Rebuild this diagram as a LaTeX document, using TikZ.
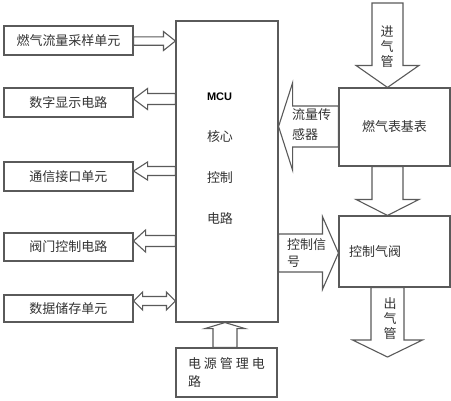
\documentclass[tikz,border=0pt]{standalone}
\usepackage{fontspec}
\setmainfont{Noto Sans CJK SC}
\newfontfamily\mcufont{Liberation Sans}
\usepackage{tikz}
\usetikzlibrary{calc}
\definecolor{linegray}{HTML}{5A5A5A}
\definecolor{textgray}{HTML}{333333}
\tikzstyle{box} = [draw=linegray, line width=1.1pt, inner sep=0pt, text=textgray,
    font=\fontsize{13}{15}\selectfont, align=center]
\tikzstyle{txt} = [inner sep=0pt, text=textgray, align=left]
% hollow block arrow: shaft half width, head half width, head length
\tikzset{fat/.style n args={3}{draw=linegray, line width=1.1pt,
    to path={let \p1=(\tikztostart), \p2=(\tikztotarget),
      \n1={atan2(\y2-\y1,\x2-\x1)}, \n2={veclen(\x2-\x1,\y2-\y1)} in
      ($(\p1)+({\n1+90}:#1)$) -- ($(\p1)+(\n1:{\n2-#3})+({\n1+90}:#1)$)
      -- ($(\p1)+(\n1:{\n2-#3})+({\n1+90}:#2)$) -- (\p2)
      -- ($(\p1)+(\n1:{\n2-#3})+({\n1-90}:#2)$)
      -- ($(\p1)+(\n1:{\n2-#3})+({\n1-90}:#1)$) -- ($(\p1)+({\n1-90}:#1)$) -- cycle}},
  fatboth/.style n args={3}{draw=linegray, line width=1.1pt,
    to path={let \p1=(\tikztostart), \p2=(\tikztotarget),
      \n1={atan2(\y2-\y1,\x2-\x1)}, \n2={veclen(\x2-\x1,\y2-\y1)} in
      (\p1) -- ($(\p1)+(\n1:#3)+({\n1+90}:#2)$) -- ($(\p1)+(\n1:#3)+({\n1+90}:#1)$)
      -- ($(\p1)+(\n1:{\n2-#3})+({\n1+90}:#1)$) -- ($(\p1)+(\n1:{\n2-#3})+({\n1+90}:#2)$)
      -- (\p2) -- ($(\p1)+(\n1:{\n2-#3})+({\n1-90}:#2)$)
      -- ($(\p1)+(\n1:{\n2-#3})+({\n1-90}:#1)$) -- ($(\p1)+(\n1:#3)+({\n1-90}:#1)$)
      -- ($(\p1)+(\n1:#3)+({\n1-90}:#2)$) -- cycle}}}

\begin{document}
\begin{tikzpicture}[x=1pt, y=-1pt]
        \useasboundingbox[fill=white] (0,0) rectangle (451,400);
        % left column
        \node (samp)[box, minimum width=129pt, minimum height=29pt] at (68.5,40.5) {燃气流量采样单元};
        \node (disp)[box, minimum width=129pt, minimum height=29pt] at (68.5,102.5) {数字显示电路};
        \node (comm)[box, minimum width=129pt, minimum height=29pt] at (68.5,176.5) {通信接口单元};
        \node (valvectl)[box, minimum width=129pt, minimum height=28pt] at (68.5,247) {阀门控制电路};
        \node (store)[box, minimum width=129pt, minimum height=27pt] at (68.5,308.5) {数据储存单元};
        % MCU
        \node (mcu)[box, minimum width=102pt, minimum height=301pt] at (227,171.5) {};
        \node (mcutxt)[txt, font=\fontsize{13}{41}\selectfont] at (220,158.5)
            {{\mcufont\bfseries\fontsize{11}{41}\selectfont\color{black}MCU}\\核心\\控制\\电路};
        \node (power)[box, minimum width=101pt, minimum height=49pt,
            font=\fontsize{13}{18}\selectfont, align=left] at (226.5,372.5)
            {电\hspace{3pt}源\hspace{3pt}管\hspace{3pt}理\hspace{3pt}电\\路};
        % right column
        \node (meter)[box, minimum width=111pt, minimum height=78pt] at (394.5,127) {燃气表基表};
        \node (valve)[box, minimum width=111pt, minimum height=71pt, align=left,
            text width=91pt] at (394.5,251.5) {控制气阀};
        \coordinate (inlet) at (387.5,3);
        \coordinate (outlet) at (387.5,357);

        \draw [fat={4.2pt}{9.5pt}{12pt}] (samp.east |- 0,41) to (mcu.west |- 0,41);
        \draw [fat={5.5pt}{10.5pt}{14pt}] (mcu.west |- 0,99) to (disp.east |- 0,99);
        \draw [fat={4.5pt}{9pt}{14pt}] (mcu.west |- 0,171) to (comm.east |- 0,171);
        \draw [fat={5.5pt}{11pt}{12pt}] (mcu.west |- 0,241) to (valvectl.east |- 0,241);
        \draw [fatboth={4.5pt}{9pt}{9pt}] (store.east |- 0,301) to (mcu.west |- 0,301);
        \draw [fat={12pt}{20pt}{6pt}] (power.north -| 225,0) to (mcu.south -| 225,0);

        \draw [fat={15.5pt}{31.5pt}{22pt}] (inlet) to (meter.north -| inlet);
        \draw [fat={20.5pt}{43.5pt}{14pt}] (meter.west |- 0,126.5) to (mcu.east |- 0,126.5);
        \draw [fat={15.5pt}{31.5pt}{16pt}] (meter.south -| inlet) to (valve.north -| inlet);
        \draw [fat={19pt}{36.5pt}{16pt}] (mcu.east |- 0,253) to (valve.west |- 0,253);
        \draw [fat={16.5pt}{35pt}{17pt}] (valve.south -| outlet) to (outlet);

        \node (intxt)[txt, align=center, font=\fontsize{13}{15}\selectfont] at (387,47) {进\\气\\管};
        \node (outtxt)[txt, align=center, font=\fontsize{13}{15}\selectfont] at (390,319) {出\\气\\管};
        \node (flowtxt)[txt, anchor=west, font=\fontsize{13}{20}\selectfont] at (292,125) {流量传\\感器};
        \node (sigtxt)[txt, anchor=west, font=\fontsize{13}{17}\selectfont] at (287,253.5) {控制信\\号};
    \end{tikzpicture}
\end{document}
